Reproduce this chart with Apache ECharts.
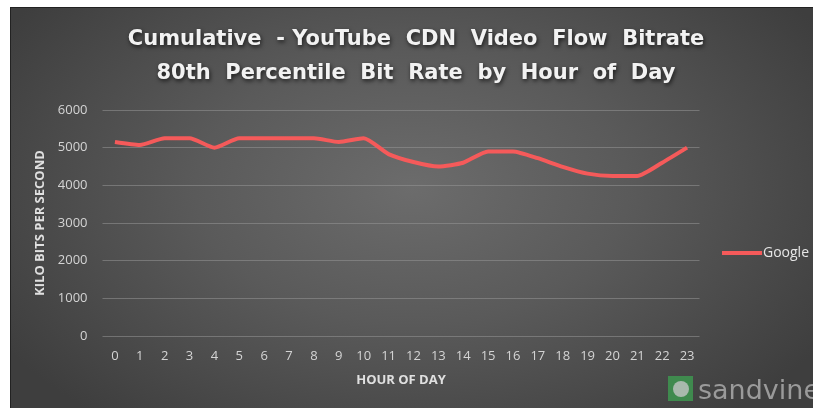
<!DOCTYPE html>
<html>
<head>
<meta charset="utf-8">
<script src="https://cdn.jsdelivr.net/npm/echarts@6/dist/echarts.min.js"></script>
<style>
html,body{margin:0;padding:0;background:#fff;width:813px;height:408px;overflow:hidden;}
#frame{position:absolute;left:10px;top:7px;width:803px;height:401px;
 background:radial-gradient(ellipse 60% 75% at 50% 45%, #6c6c6c 0%, #5a5a5a 45%, #3e3e3e 100%);
 border-left:1px solid #222;border-top:1px solid #222;box-sizing:border-box;}
#chart{position:absolute;left:0;top:0;width:802px;height:400px;}
</style>
</head>
<body>
<div id="frame"><div id="chart"></div></div>
<script>
const hours = ['0','1','2','3','4','5','6','7','8','9','10','11','12','13','14','15','16','17','18','19','20','21','22','23'];
const google = [5150,5070,5250,5250,5000,5250,5250,5250,5250,5150,5250,4830,4620,4500,4600,4900,4900,4720,4490,4310,4250,4250,4600,5000];
const titleLines = ['Cumulative  - YouTube  CDN  Video  Flow  Bitrate', '80th  Percentile  Bit  Rate  by  Hour  of  Day'];
const seriesName = 'Google';
const xName = 'HOUR OF DAY';
const yName = 'KILO BITS PER SECOND';

const chart = echarts.init(document.getElementById('chart'), null, {renderer:'canvas'});
const fontFam = '"Open Sans", "Liberation Sans", sans-serif';
chart.setOption({
  backgroundColor: 'transparent',
  animation: false,
  title: {
    text: titleLines.join('\n'),
    left: 400, top: 10, textAlign: 'center',
    textStyle: {
      color: '#f2f2f2', fontSize: 21, fontWeight: 'bold', fontFamily: '"DejaVu Sans", sans-serif',
      lineHeight: 34, textShadowColor: 'rgba(0,0,0,0.7)', textShadowBlur: 4,
      textShadowOffsetX: 1, textShadowOffsetY: 2
    }
  },
  legend: {
    data: [seriesName], orient: 'vertical', left: 706, top: 233,
    itemWidth: 40, itemHeight: 4, itemGap: 2,
    icon: 'rect',
    textStyle: {color: '#e6e6e6', fontSize: 14, fontFamily: fontFam, padding: [0,0,0,-4]}
  },
  grid: {left: 91.5, top: 102, width: 597, height: 226, containLabel: false},
  xAxis: {
    type: 'category', data: hours, boundaryGap: true,
    name: xName, nameLocation: 'middle', nameGap: 38,
    nameTextStyle: {color: '#e0e0e0', fontSize: 13, fontWeight: 'bold', fontFamily: fontFam},
    axisLine: {show: false}, axisTick: {show: false},
    axisLabel: {color: '#d4d4d4', fontSize: 13, margin: 14, fontFamily: fontFam}
  },
  yAxis: {
    type: 'value', min: 0, max: 6000, interval: 1000,
    name: yName, nameLocation: 'middle', nameGap: 55, nameRotate: 90,
    nameTextStyle: {color: '#e0e0e0', fontSize: 13, fontWeight: 'bold', fontFamily: fontFam},
    axisLine: {show: false}, axisTick: {show: false},
    axisLabel: {color: '#d4d4d4', fontSize: 13, margin: 15, fontFamily: fontFam, formatter: v => String(v)},
    splitLine: {lineStyle: {color: 'rgba(150,150,150,0.55)', width: 1}}
  },
  series: [{
    name: seriesName, type: 'line', data: google, smooth: 0.2,
    symbol: 'none', lineStyle: {color: '#f55a5a', width: 4},
    itemStyle: {color: '#f55a5a'}
  }],
  graphic: [
    {type: 'rect', shape: {x: 657, y: 368, width: 25, height: 25},
     style: {fill: '#3f8a4e'}},
    {type: 'circle', shape: {cx: 670, cy: 381, r: 8}, style: {fill: '#a9b9ad'}},
    {type: 'text', style: {x: 687, y: 384, verticalAlign: 'middle', text: 'sandvine', fill: '#9a9a9a', font: '27px "DejaVu Sans", sans-serif'}}
  ]
});
</script>
</body>
</html>
